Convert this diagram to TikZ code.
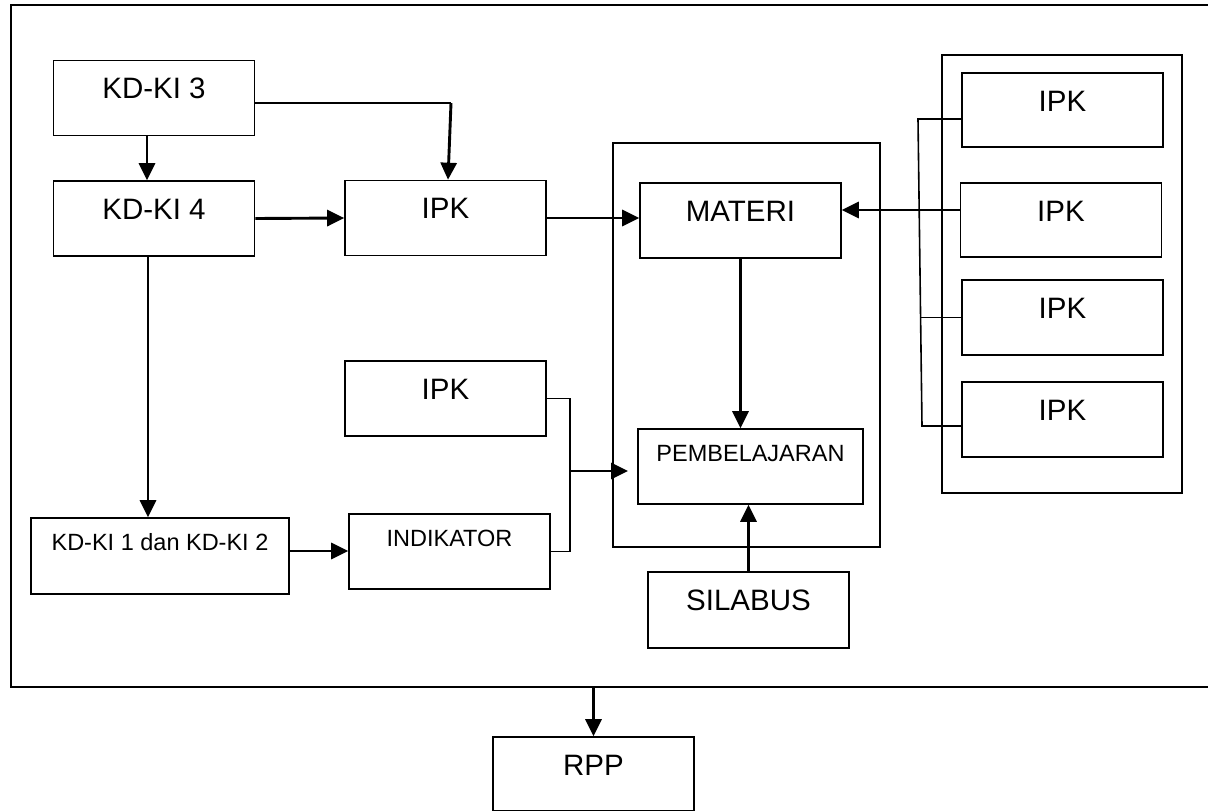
\documentclass[tikz,border=0pt]{standalone}
\usepackage{fontspec}
\setmainfont{Liberation Sans}
\usetikzlibrary{arrows.meta}
\newcommand\lgfont{\fontsize{29.5}{34}\selectfont}
\newcommand\smfont{\fontsize{23.5}{28}\selectfont}
\tikzset{
  ln/.style={line width=1.6pt},
  arr/.style={line width=2.9pt, -{Triangle[length=17pt,width=16pt]}},
  frm/.style={draw, ln, inner sep=0pt, anchor=north west},
  box/.style={draw, ln, inner sep=0pt, minimum width=201pt, minimum height=75pt},
  txt/.style={anchor=center, inner sep=0pt, yshift=-29pt, font=\lgfont},
  bigbox/.style={box, label={[txt]north:#1}},
  smallbox/.style={box, label={[txt, yshift=4pt, font=\smfont]north:#1}},
}
\begin{document}
\begin{tikzpicture}[x=1pt, y=-1pt]
\useasboundingbox (0,0) rectangle (1208,811);

% frames
\node[frm, minimum width=1230pt, minimum height=682pt] (frame) at (10,4) {};
\node[frm, minimum width=267pt, minimum height=404pt] (mid) at (612,142) {};
\node[frm, minimum width=240pt, minimum height=438pt] (rc) at (941,54) {};

% left column
\node[bigbox=KD-KI 3] (k3) at (154,98) {};
\node[bigbox=KD-KI 4] (k4) at (154,218.5) {};
\node[smallbox=KD-KI 1 dan KD-KI 2, minimum width=258pt, minimum height=76pt] (k12) at (160,556) {};

% middle column
\node[bigbox=IPK] (ipk) at (445.5,218) {};
\node[bigbox=IPK] (ipkl) at (445.5,398.5) {};
\node[smallbox=INDIKATOR] (ind) at (449.5,551.5) {};

% inside the centre frame
\node[bigbox=MATERI] (mat) at (740.5,220.5) {};
\node[smallbox=PEMBELAJARAN, minimum width=225pt] (pemb) at (750.5,466.5) {};
\node[bigbox=SILABUS, minimum height=76pt] (sil) at (748.5,610) {};
\node[bigbox=RPP, minimum height=74pt] (rpp) at (593.5,774) {};

% right column
\node[bigbox=IPK, minimum height=74pt] (r1) at (1062.5,110) {};
\node[bigbox=IPK, minimum height=74pt] (r2) at (1061,220) {};
\node[bigbox=IPK] (r3) at (1062.5,317.5) {};
\node[bigbox=IPK] (r4) at (1062.5,419.5) {};

% junction points
\coordinate (j1) at (451,103);
\coordinate (b1) at (570,398.5);
\coordinate (b2) at (570,551.5);
\coordinate (b3) at (570,471);
\coordinate (b4) at (628,471);
\coordinate (rb1) at (918,119);
\coordinate (rb2) at (922,426);
\coordinate (rb3) at (920,317.5);

% connectors
\draw[arr] ([xshift=-7pt]k3.south) -- ([xshift=-7pt]k4.north);
\draw[ln] ([yshift=-5pt]k3.east) -- (j1);
\draw[arr] (j1) -- ([xshift=2.5pt]ipk.north);
\draw[arr] (k4.east) -- (ipk.west);
\draw[arr] (ipk.east) -- (ipk.east -| mat.west);
\draw[arr] (mat.south) -- (mat.south |- pemb.north);
\draw[arr] ([yshift=10pt]r2.west) -- ([yshift=10pt]r2.west -| mat.east);
\draw[arr] (sil.north) -- (sil.north |- pemb.south);
\draw[arr] (frame.south -| rpp.north) -- (rpp.north);
\draw[arr] ([xshift=-6pt]k4.south) -- ([xshift=-6pt]k4.south |- k12.north);
\draw[arr] ([yshift=5pt]k12.east) -- ([yshift=5pt]k12.east -| ind.west);

% bracket joining IPK and INDIKATOR
\draw[ln] (ipkl.east) -- (b1) -- (b2) -- (ind.east);
\draw[arr] (b3) -- (b4);

% bracket on the right IPK boxes
\draw[ln] ([yshift=-9pt]r1.west) -- (rb1) -- (rb2) -- ([yshift=-6.5pt]r4.west);
\draw[ln] (r3.west) -- (rb3);
\end{tikzpicture}
\end{document}
